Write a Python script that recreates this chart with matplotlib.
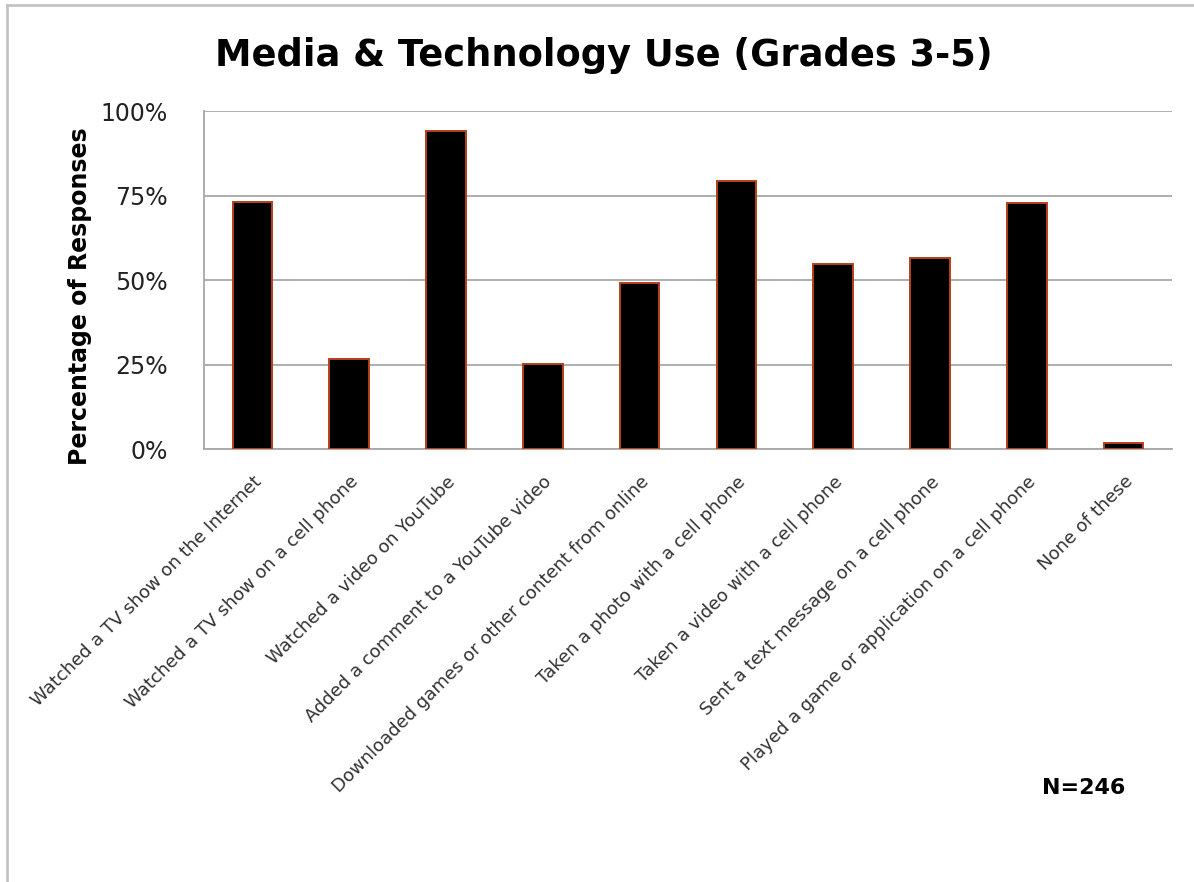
import matplotlib
matplotlib.use("Agg")
import matplotlib.pyplot as plt
from matplotlib.lines import Line2D
from matplotlib.ticker import FuncFormatter
import numpy as np

activities = [
    "Watched a TV show on the Internet",
    "Watched a TV show on a cell phone",
    "Watched a video on YouTube",
    "Added a comment to a YouTube video",
    "Downloaded games or other content from online",
    "Taken a photo with a cell phone",
    "Taken a video with a cell phone",
    "Sent a text message on a cell phone",
    "Played a game or application on a cell phone",
    "None of these",
]
pct_responses = [73.2, 26.6, 94.1, 25.1, 49.2, 79.2, 54.7, 56.4, 72.8, 1.9]
y_ticks = [0, 25, 50, 75, 100]
n_respondents = 246

plt.rcParams["font.family"] = ["DejaVu Sans"]

fig = plt.figure(figsize=(11.94, 8.82), dpi=100)
ax = fig.add_axes([0.1709, 0.4909, 0.8107, 0.3832])

x = np.arange(len(activities))
ax.bar(x, pct_responses, width=0.41, color="black",
       edgecolor="#b5401a", linewidth=1.4, zorder=3)

ax.set_xlim(-0.5, len(activities) - 0.5)
ax.set_ylim(0, 100)
ax.set_yticks(y_ticks)
ax.yaxis.set_major_formatter(FuncFormatter(lambda v, _: f"{v:.0f}%"))
ax.tick_params(axis="y", length=0, pad=26, labelsize=17, labelcolor="#222222")
ax.tick_params(axis="x", length=0, pad=17)
ax.set_xticks(x)
ax.set_xticklabels(activities, rotation=45, ha="right", rotation_mode="anchor",
                   fontsize=13, color="#333333")

ax.grid(axis="y", color="#a8a8a8", linewidth=1.3, zorder=0)
for side in ("top", "right"):
    ax.spines[side].set_visible(False)
for side in ("left", "bottom"):
    ax.spines[side].set_color("#a8a8a8")
    ax.spines[side].set_linewidth(1.3)

ax.set_ylabel("Percentage of Responses", fontsize=17, fontweight="bold", labelpad=6)
ax.yaxis.label.set_y(0.453)

fig.text(0.506, 0.937, "Media & Technology Use (Grades 3-5)", ha="center", va="center",
         fontsize=26.5, fontweight="bold")
fig.text(0.908, 0.107, f"N={n_respondents}", ha="center", va="center",
         fontsize=16, fontweight="bold")

# outer frame along the top and left edges
fig.add_artist(Line2D([7 / 1194, 1.0], [1 - 5 / 882, 1 - 5 / 882],
                      transform=fig.transFigure, color="#c4c4c4", linewidth=2))
fig.add_artist(Line2D([7 / 1194, 7 / 1194], [0.0, 1 - 5 / 882],
                      transform=fig.transFigure, color="#c4c4c4", linewidth=2))

fig.savefig("out.png", dpi=100)
